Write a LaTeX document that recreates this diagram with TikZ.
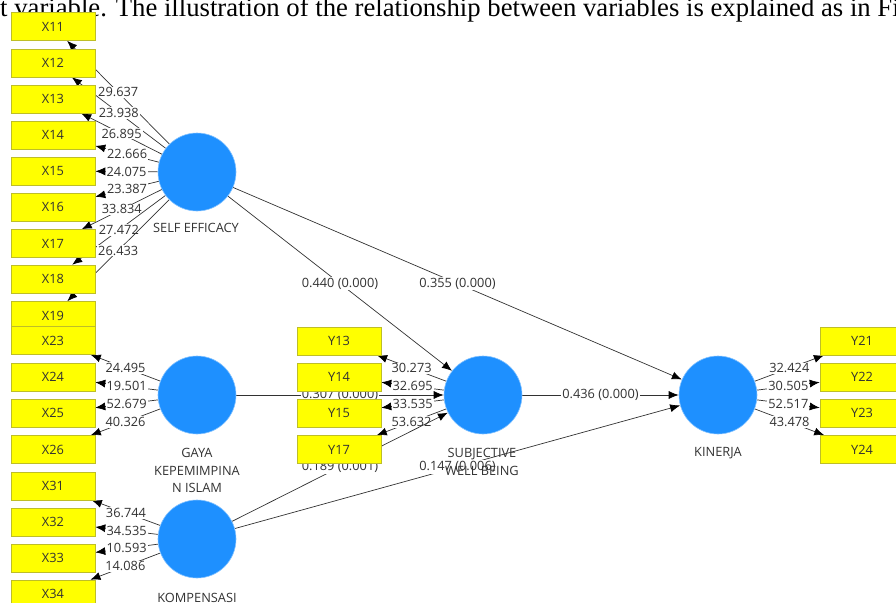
\documentclass[tikz,border=0pt]{standalone}
\usepackage{fontspec}
\newfontfamily\labfont{Open Sans}
\newfontfamily\topfont{Liberation Serif}
\usetikzlibrary{arrows.meta}
\pgfdeclarelayer{bg}
\pgfsetlayers{bg,main}
\definecolor{boxy}{RGB}{255,255,0}
\definecolor{boxedge}{RGB}{190,190,40}
\definecolor{latent}{RGB}{30,144,255}
\definecolor{txt}{RGB}{50,50,50}
\definecolor{ln}{RGB}{50,50,50}
\tikzset{
  ind/.style={draw=boxedge, fill=boxy, minimum width=84pt, minimum height=28pt, inner sep=0pt,
    font=\labfont\fontsize{12.8}{14}\selectfont, text=txt, line width=0.6pt},
  lat/.style={circle, fill=latent, draw=latent!55, line width=0.6pt, minimum size=78pt, inner sep=0pt},
  latcap/.style={font=\labfont\fontsize{12.8}{17.5}\selectfont, text=txt, align=center, inner sep=0pt},
  load/.style={draw=ln, line width=0.7pt, -{Latex[length=10pt,width=8pt,color=black]}},
  wt/.style={fill=white, inner sep=1pt, pos=0.5, font=\labfont\fontsize{12.8}{14}\selectfont, text=txt}
}
\begin{document}
\begin{tikzpicture}[x=1pt,y=-1pt]
\useasboundingbox (0,0) rectangle (896,602);
\clip (0,0) rectangle (896,602);
% top text
\node[anchor=base west, inner sep=0pt, font=\topfont\fontsize{26.7}{30}\selectfont] (title) at (0,16.5)
  {t variable. The illustration of the relationship between variables is explained as in Fi};
% latent variables
\node[lat] (SE) at (197,172) {};
\node[lat] (GA) at (197,395) {};
\node[lat] (KO) at (197,539) {};
\node[lat] (SWB) at (483,395) {};
\node[lat] (KIN) at (718,395) {};
\node[latcap] (SEl) at (196,228) {SELF EFFICACY};
\node[latcap] (GAl) at (197,470.5) {GAYA\\KEPEMIMPINA\\N ISLAM};
\node[latcap] (KOl) at (197,598) {KOMPENSASI};
\node[latcap] (SWBl) at (482,462) {SUBJECTIVE\\WELL BEING};
\node[latcap] (KINl) at (718,453) {KINERJA};
% indicators
\node[ind] (X11) at (53,26.5) {X11};
\node[ind] (X12) at (53,63) {X12};
\node[ind] (X13) at (53,99) {X13};
\node[ind] (X14) at (53,135) {X14};
\node[ind] (X15) at (53,171) {X15};
\node[ind] (X16) at (53,207) {X16};
\node[ind] (X17) at (53,243.5) {X17};
\node[ind] (X18) at (53,279) {X18};
\node[ind] (X19) at (53,315.5) {X19};
\node[ind] (X23) at (53,340.5) {X23};
\node[ind] (X24) at (53,377) {X24};
\node[ind] (X25) at (53,413) {X25};
\node[ind] (X26) at (53,449.5) {X26};
\node[ind] (X31) at (53,486) {X31};
\node[ind] (X32) at (53,522) {X32};
\node[ind] (X33) at (53,558) {X33};
\node[ind] (X34) at (53,594) {X34};
\node[ind] (Y13) at (339,341) {Y13};
\node[ind] (Y14) at (339,377) {Y14};
\node[ind] (Y15) at (339,413) {Y15};
\node[ind] (Y17) at (339,449.5) {Y17};
\node[ind] (Y21) at (862,341) {Y21};
\node[ind] (Y22) at (862,377) {Y22};
\node[ind] (Y23) at (862,413) {Y23};
\node[ind] (Y24) at (862,449.5) {Y24};
\begin{pgfonlayer}{bg}
% outer loadings
\draw[load] (SE) -- node[wt]{29.637} (X11);
\draw[load] (SE) -- node[wt]{23.938} (X12);
\draw[load] (SE) -- node[wt]{26.895} (X13);
\draw[load] (SE) -- node[wt]{22.666} (X14);
\draw[load] (SE) -- node[wt]{24.075} (X15);
\draw[load] (SE) -- node[wt]{23.387} (X16);
\draw[load] (SE) -- node[wt]{33.834} (X17);
\draw[load] (SE) -- node[wt]{27.472} (X18);
\draw[load] (SE) -- node[wt]{26.433} (X19);
\draw[load] (GA) -- node[wt]{24.495} (X23);
\draw[load] (GA) -- node[wt]{19.501} (X24);
\draw[load] (GA) -- node[wt]{52.679} (X25);
\draw[load] (GA) -- node[wt]{40.326} (X26);
\draw[load] (KO) -- node[wt]{36.744} (X31);
\draw[load] (KO) -- node[wt]{34.535} (X32);
\draw[load] (KO) -- node[wt]{10.593} (X33);
\draw[load] (KO) -- node[wt]{14.086} (X34);
\draw[load] (SWB) -- node[wt]{30.273} (Y13);
\draw[load] (SWB) -- node[wt]{32.695} (Y14);
\draw[load] (SWB) -- node[wt]{33.535} (Y15);
\draw[load] (SWB) -- node[wt]{53.632} (Y17);
\draw[load] (KIN) -- node[wt]{32.424} (Y21);
\draw[load] (KIN) -- node[wt]{30.505} (Y22);
\draw[load] (KIN) -- node[wt]{52.517} (Y23);
\draw[load] (KIN) -- node[wt]{43.478} (Y24);
% inner model
\draw[load] (SE) -- node[wt]{0.440 (0.000)} (SWB);
\draw[load] (SE) -- node[wt]{0.355 (0.000)} (KIN);
\draw[load] (GA) -- node[wt]{0.307 (0.000)} (SWB);
\draw[load] (SWB) -- node[wt]{0.436 (0.000)} (KIN);
\draw[load] (KO) -- node[wt]{0.189 (0.001)} (SWB);
\draw[load] (KO) -- node[wt]{0.147 (0.006)} (KIN);
\end{pgfonlayer}
\end{tikzpicture}
\end{document}
